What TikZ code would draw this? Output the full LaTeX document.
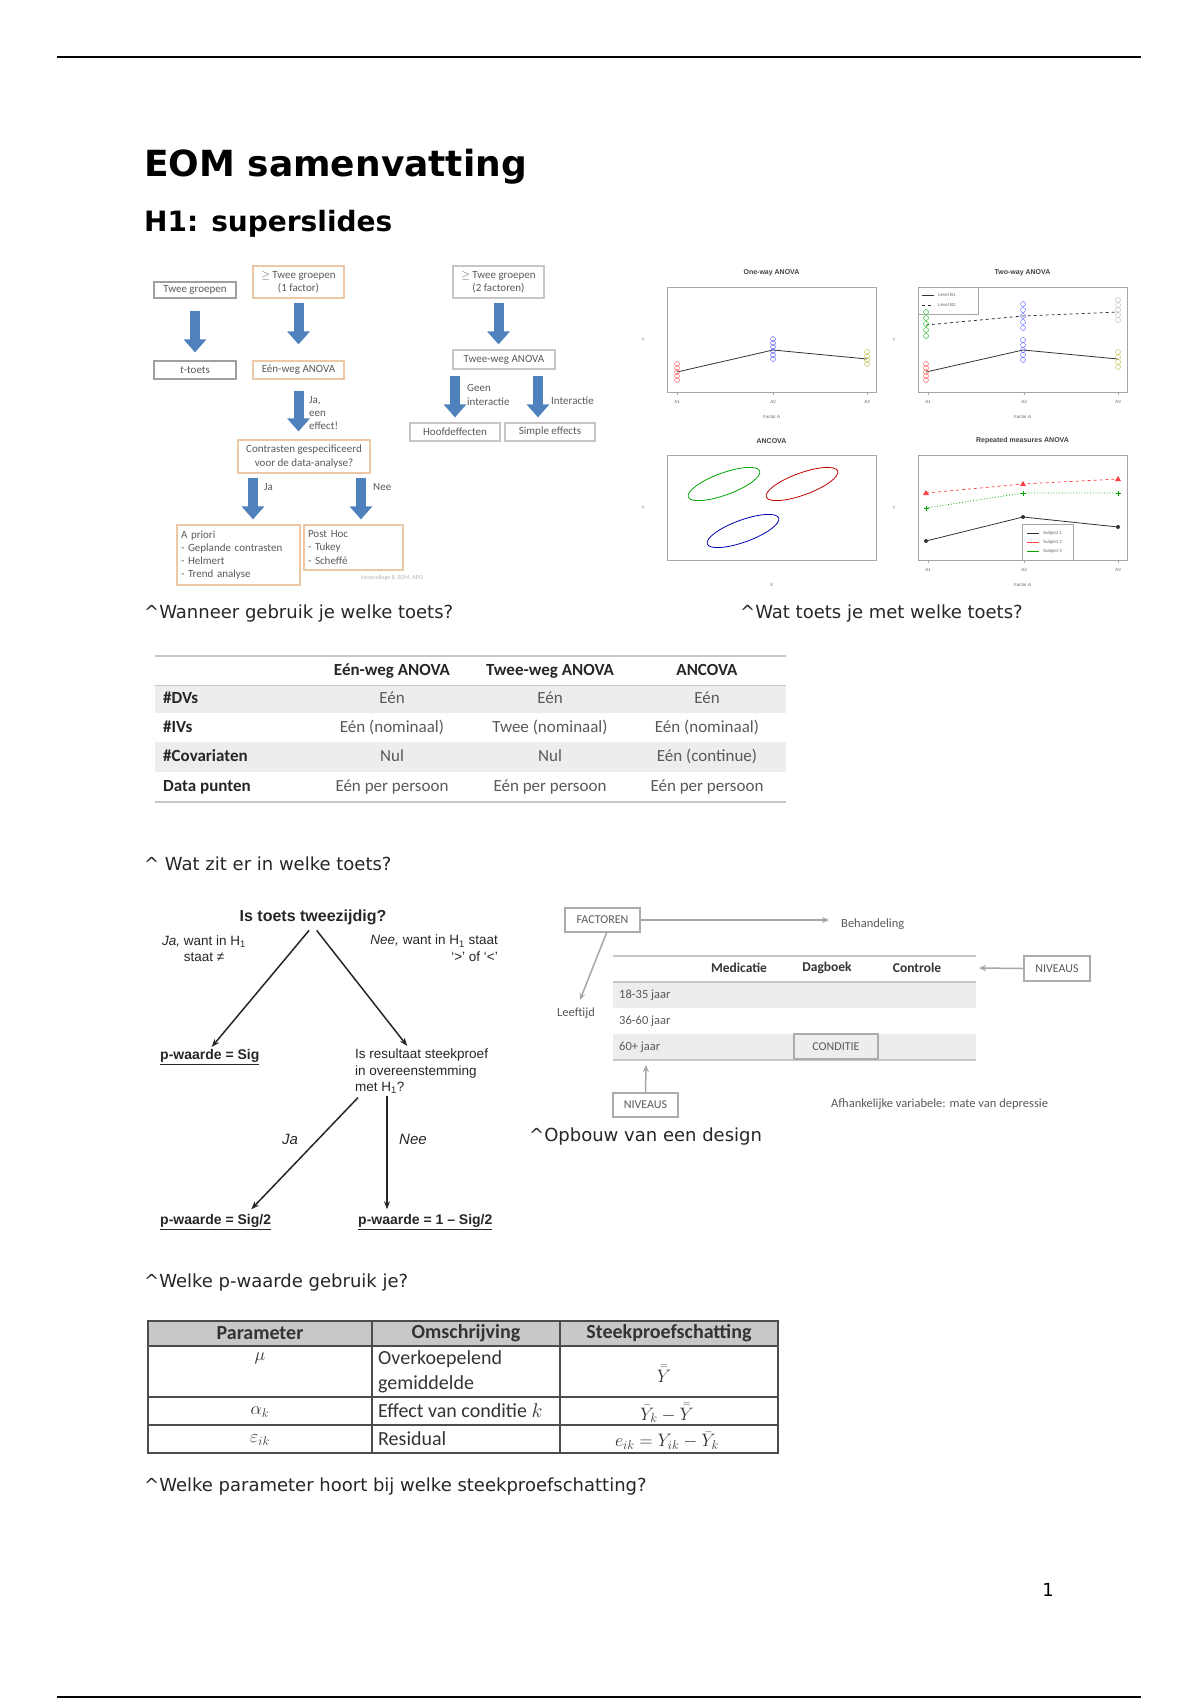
\RequirePackage{fix-cm}
\documentclass[tikz,border=0pt]{standalone}
\usepackage{fontspec}
\setmainfont{DejaVu Sans}
\newfontfamily\carlito{Carlito}
\newfontfamily\arial{Liberation Sans}
\usetikzlibrary{arrows.meta,positioning}
\newcommand\fsz[1]{\fontsize{#1}{\dimexpr #1pt*6/5\relax}\selectfont}
\definecolor{slideblauw}{RGB}{79,129,189}
\definecolor{randbruin}{RGB}{236,200,166}
\definecolor{randgrijs}{RGB}{160,160,160}
\definecolor{donkergrijs}{RGB}{89,89,89}
\definecolor{rijgrijs}{RGB}{237,237,237}
\definecolor{regelgrijs}{RGB}{200,200,200}
\definecolor{kopgrijs}{RGB}{200,200,200}
\tikzset{
  doos/.style={draw=#1, line width=1.2pt, align=center, inner sep=1pt, font=\carlito\fsz{11}, text=donkergrijs},
  doos/.default=randbruin,
  blokpijl/.style={slideblauw, line width=10pt, -{Triangle[length=13pt,width=22pt]}},
  pijllabel/.style={font=\carlito\fsz{11}, text=donkergrijs, align=left, anchor=west, inner sep=0},
  bijschrift/.style={anchor=base west, inner sep=0, font=\fsz{18}, text=black!85},
  kader/.style={draw=gray!70, line width=0.6pt},
  plottitel/.style={font=\arial\bfseries\fsz{7}, text=black!75, inner sep=0},
  plotklein/.style={font=\arial\fsz{4.5}, text=black!60, inner sep=0},
  tabelkop/.style={font=\carlito\bfseries\fsz{17}, text=black!85, inner sep=0, text height=12pt, text depth=3.5pt},
  tabelcel/.style={font=\carlito\fsz{17}, text=donkergrijs, inner sep=0, text height=12pt, text depth=3.5pt},
  boomtekst/.style={font=\arial\fsz{13.5}, text=black!85, inner sep=0},
  boompijl/.style={black!85, line width=1.5pt, -{Stealth[length=8pt,width=6pt]}},
  uitkomst/.style={font=\arial\bfseries\fsz{14}, text=black!85, inner sep=0, anchor=west},
  ontwerpkader/.style={draw=gray!65, line width=2pt, font=\carlito\fsz{12}, text=donkergrijs, inner sep=2pt},
  ontwerptekst/.style={font=\carlito\fsz{12.5}, text=donkergrijs, inner sep=0},
  ontwerpkop/.style={font=\carlito\bfseries\fsz{13.5}, text=black!80, inner sep=0},
  ontwerppijl/.style={gray!70, line width=1.5pt, -{Stealth[length=7pt,width=6pt]}},
  paramlijn/.style={draw=black!70, line width=1.4pt},
  paramtekst/.style={font=\carlito\fsz{20}, text=black!80, inner sep=0},
  parammath/.style={font=\fsz{18}, text=black!80, inner sep=0},
}
\begin{document}
\begin{tikzpicture}[x=1pt,y=-1pt]
\useasboundingbox (0,0) rectangle (1200,1700);
\draw[line width=1.4pt] (57,57) -- (1141,57);
\draw[line width=1.4pt] (57,1697) -- (1141,1697);
\node[anchor=base west,inner sep=0,font=\bfseries\fsz{36}] (titel) at (144,176) {EOM samenvatting};
\node[anchor=base west,inner sep=0,font=\bfseries\fsz{28}] (hoofdstuk) at (144,231) {H1: superslides};

\node[doos=randgrijs,minimum width=82pt,minimum height=16pt] (tweeg) at (195,290) {Twee groepen};
\node[doos,minimum width=91pt,minimum height=32pt] (tweeg1) at (298.5,282) {$\geq$ Twee groepen\\(1 factor)};
\node[doos=randgrijs,minimum width=82pt,minimum height=18pt] (ttoets) at (195,370) {\textit{t}-toets};
\node[doos,minimum width=91pt,minimum height=18pt] (eenweg) at (298.5,370) {Eén-weg ANOVA};
\node[doos,minimum width=132pt,minimum height=33pt] (contrast) at (304,456.5) {Contrasten gespecificeerd\\voor de data-analyse?};
\node[doos,minimum width=123pt,minimum height=60pt,text width=115pt,align=left] (apriori) at (238.5,555) {A priori\\- Geplande contrasten\\- Helmert\\- Trend analyse};
\node[doos,minimum width=99pt,minimum height=45pt,text width=91pt,align=left] (posthoc) at (353.5,547.5) {Post Hoc\\- Tukey\\- Scheffé};
\node[doos=randgrijs!60,minimum width=91pt,minimum height=32pt] (tweeg2) at (498.5,282) {$\geq$ Twee groepen\\(2 factoren)};
\node[doos=randgrijs!60,minimum width=102pt,minimum height=19pt] (tweeweg) at (504,359.5) {Twee-weg ANOVA};
\node[doos=randgrijs!60,minimum width=90pt,minimum height=18pt] (hoofd) at (455,432) {Hoofdeffecten};
\node[doos=randgrijs!60,minimum width=90pt,minimum height=18pt] (simpel) at (550,432) {Simple effects};
\draw[blokpijl,shorten <=12pt,shorten >=8pt] (tweeg) -- (ttoets);
\draw[blokpijl,shorten <=4pt,shorten >=16pt] (tweeg1) -- (eenweg);
\draw[blokpijl,shorten <=11pt,shorten >=8pt] (eenweg.south) -- (eenweg.south |- contrast.north);
\draw[blokpijl,shorten <=4pt,shorten >=5pt] ([xshift=-51pt]contrast.south) -- ([xshift=14.5pt]apriori.north);
\draw[blokpijl,shorten <=4pt,shorten >=5pt] ([xshift=57pt]contrast.south) -- ([xshift=7.5pt]posthoc.north);
\draw[blokpijl,shorten <=4pt,shorten >=5pt] (tweeg2.south) -- (tweeg2.south |- tweeweg.north);
\draw[blokpijl,shorten <=6pt,shorten >=5pt] (tweeweg.south -| hoofd.north) -- (hoofd.north);
\draw[blokpijl,shorten <=6pt,shorten >=5pt] ([xshift=34pt]tweeweg.south) -- ([xshift=-12pt]simpel.north);
\node[pijllabel] (jaeffect) at (309,413) {Ja,\\een\\effect!};
\node[pijllabel] (jalabel) at (264,487) {Ja};
\node[pijllabel] (neelabel) at (373,487) {Nee};
\node[pijllabel] (geen) at (467,395) {Geen\\interactie};
\node[pijllabel] (inter) at (551,401) {Interactie};
\node[font=\carlito\fsz{6},text=gray!60] (bron) at (392,578) {Hoorcollege 8, EOM, APO};

\foreach \px/\py/\titel [count=\i] in {667/287/One-way ANOVA,918/287/Two-way ANOVA,667/455/ANCOVA,918/455/Repeated measures ANOVA}{%
  \draw[kader] (\px,\py) rectangle ++(209,105);
  \node[plottitel] (ptitel\i) at (\px+104.5,\py-14) {\titel};
  \node[plotklein] (yas\i) at (\px-24,\py+53) {Y};}
\foreach \px/\py [count=\i] in {667/392,918/392,918/560}{%
  \foreach \dx/\lab in {10/A1,106/A2,200/A3}{%
    \draw[gray!70,line width=0.5pt] (\px+\dx,\py) -- ++(0,3);
    \node[plotklein] (as\i\lab) at (\px+\dx,\py+10) {\lab};}
  \node[plotklein] (xas\i) at (\px+104.5,\py+25) {Factor A};}
\node[plotklein] (xasX) at (771.5,585) {X};
\draw[black!80,line width=0.8pt] (677,372) -- (773,350) -- (867,359);
\foreach \y in {364,368,372,376,380} \draw[red!70,line width=0.4pt] (677,\y) circle (2.5pt);
\foreach \y in {339,343,347,351,355,359} \draw[blue!70,line width=0.4pt] (773,\y) circle (2.5pt);
\foreach \y in {352,356,360,364} \draw[yellow!70!black,line width=0.4pt] (867,\y) circle (2.5pt);
\draw[black!80,line width=0.8pt,dashed] (926,325) -- (1023,316) -- (1118,312);
\draw[black!80,line width=0.8pt] (926,372) -- (1023,350) -- (1118,359);
\foreach \y in {312,318,324,330,336} \draw[green!70!black,line width=0.4pt] (926,\y) circle (2.5pt);
\foreach \y in {364,368,372,376,380} \draw[red!70,line width=0.4pt] (926,\y) circle (2.5pt);
\foreach \y in {304,310,316,322,328,340,345,350,355,360} \draw[blue!70,line width=0.4pt] (1023,\y) circle (2.5pt);
\foreach \y in {300,305,310,315,320} \draw[gray!60,line width=0.4pt] (1118,\y) circle (2.5pt);
\foreach \y in {352,357,362,367} \draw[yellow!70!black,line width=0.4pt] (1118,\y) circle (2.5pt);
\draw[kader] (918,287) rectangle (978,314);
\draw[black!80,line width=0.6pt] (922,295) -- (934,295);
\draw[black!80,line width=0.6pt,dashed] (922,305) -- (934,305);
\node[plotklein,anchor=west] (levB1) at (938,295) {Level B1};
\node[plotklein,anchor=west] (levB2) at (938,305) {Level B2};
\draw[green!65!black,line width=0.8pt,rotate around={20:(724,484)}] (724,484) ellipse (38pt and 11pt);
\draw[red!75!black,line width=0.8pt,rotate around={20:(802,484)}] (802,484) ellipse (38pt and 11pt);
\draw[blue!70!black,line width=0.8pt,rotate around={20:(743,531)}] (743,531) ellipse (38pt and 11pt);
\draw[red!75,dashed,line width=0.7pt] (926,493) -- (1023,484) -- (1118,479);
\foreach \x/\y in {926/493,1023/484,1118/479} \fill[red!75] (\x,\y-3) -- ++(-3,5) -- ++(6,0) -- cycle;
\draw[green!65!black,dotted,line width=0.8pt] (926,508) -- (1023,493) -- (1118,493);
\foreach \x/\y in {926/508,1023/493,1118/493} \draw[green!65!black,line width=0.7pt] (\x-2.5,\y) -- (\x+2.5,\y) (\x,\y-2.5) -- (\x,\y+2.5);
\draw[black!80,line width=0.8pt] (926,541) -- (1023,517) -- (1118,527);
\foreach \x/\y in {926/541,1023/517,1118/527} \fill[black!80] (\x,\y) circle (2pt);
\draw[kader] (1022,524) rectangle (1073,560);
\foreach \y/\c/\s [count=\i] in {533/black!80/1,542/red!75/2,551/green!65!black/3}{%
  \draw[\c,line width=0.7pt] (1027,\y) -- (1039,\y);
  \node[plotklein,anchor=west] (subj\i) at (1043,\y) {Subject \s};}

\node[bijschrift] (vraag1) at (144,618) {\textasciicircum Wanneer gebruik je welke toets?};
\node[bijschrift] (vraag2) at (740,618) {\textasciicircum Wat toets je met welke toets?};

\fill[rijgrijs] (155,685) rectangle (786,713);
\fill[rijgrijs] (155,742) rectangle (786,772);
\draw[regelgrijs,line width=2pt] (155,656) -- (786,656);
\draw[regelgrijs,line width=0.8pt] (155,685) -- (786,685);
\draw[regelgrijs,line width=2pt] (155,802) -- (786,802);
\foreach \x/\kop [count=\i] in {392/Eén-weg ANOVA,550/Twee-weg ANOVA,707/ANCOVA}
  \node[tabelkop] (kop\i) at (\x,671) {\kop};
\foreach \y/\rij/\a/\b/\c [count=\i] in {699/\#DVs/Eén/Eén/Eén,728/\#IVs/Eén (nominaal)/Twee (nominaal)/Eén (nominaal),757/\#Covariaten/Nul/Nul/Eén (continue),787/Data punten/Eén per persoon/Eén per persoon/Eén per persoon}{%
  \node[tabelkop,anchor=west] (rij\i) at (163,\y) {\rij};
  \node[tabelcel] (cela\i) at (392,\y) {\a};
  \node[tabelcel] (celb\i) at (550,\y) {\b};
  \node[tabelcel] (celc\i) at (707,\y) {\c};}
\node[bijschrift] (vraag3) at (144,870) {\textasciicircum{} Wat zit er in welke toets?};

\node[font=\arial\bfseries\fsz{16},text=black!85,inner sep=1pt] (tweezijdig) at (313,917) {Is toets tweezijdig?};
\node[boomtekst,align=center] (jawant) at (204,949) {\textit{Ja,} want in H\textsubscript{1}\\staat ≠};
\node[boomtekst,align=right,anchor=north east] (neewant) at (498,935) {\textit{Nee,} want in H\textsubscript{1} staat\\‘>’ of ‘<’};
\node[uitkomst] (sig) at (160,1057) {\underline{p-waarde = Sig}};
\node[boomtekst,align=left,anchor=north west] (resultaat) at (355,1049) {Is resultaat steekproef\\in overeenstemming\\met H\textsubscript{1}?};
\node[uitkomst] (sig2) at (160,1222) {\underline{p-waarde = Sig/2}};
\node[uitkomst] (sig3) at (358,1222) {\underline{p-waarde = 1 – Sig/2}};
\node[font=\arial\itshape\fsz{15},text=black!85] (ja) at (290,1139) {Ja};
\node[font=\arial\itshape\fsz{15},text=black!85] (nee) at (413,1139) {Nee};
\draw[boompijl,shorten <=6pt,shorten >=3pt] (tweezijdig.south) -- (sig.north);
\draw[boompijl,shorten <=6pt,shorten >=4pt] (tweezijdig.south) -- ([xshift=-12pt]resultaat.north);
\draw[boompijl] ([xshift=3pt,yshift=-4pt]resultaat.south west) -- ([xshift=-20pt,yshift=5pt]sig2.north east);
\draw[boompijl] ([xshift=32pt,yshift=-2pt]resultaat.south west) -- ([xshift=29pt,yshift=5pt]sig3.north west);
\node[bijschrift] (vraag4) at (144,1287) {\textasciicircum Welke p-waarde gebruik je?};

\fill[rijgrijs] (613,982) rectangle (976,1008);
\fill[rijgrijs] (613,1034) rectangle (976,1060);
\foreach \y in {956,982,1060} \draw[regelgrijs,line width=1.5pt] (613,\y) -- (976,\y);
\foreach \x/\kop [count=\i] in {739/Medicatie,827/Dagboek,917/Controle}
  \node[ontwerpkop] (behkop\i) at (\x,968) {\kop};
\foreach \y/\rij [count=\i] in {995/18-35 jaar,1021/36-60 jaar,1047/60+ jaar}
  \node[ontwerptekst,anchor=west] (leeft\i) at (619,\y) {\rij};
\node[ontwerpkader,minimum width=75pt,minimum height=24pt] (factoren) at (602.5,920) {FACTOREN};
\node[ontwerptekst,anchor=west] (behandeling) at (841,924) {Behandeling};
\node[ontwerptekst] (leeftijd) at (576,1013) {Leeftijd};
\node[ontwerpkader,minimum width=84pt,minimum height=25pt] (conditie) at (836,1046.5) {CONDITIE};
\node[ontwerpkader,minimum width=66pt,minimum height=25pt] (niveaus1) at (1057,968.5) {NIVEAUS};
\node[ontwerpkader,minimum width=65pt,minimum height=24pt] (niveaus2) at (645.5,1105) {NIVEAUS};
\coordinate (kolomkop) at (979,968);
\coordinate (rijkop) at (646,1065);
\draw[ontwerppijl,shorten >=12pt] (factoren.east) -- (factoren.east -| behandeling.west);
\draw[ontwerppijl,shorten >=8pt] ([xshift=4pt]factoren.south) -- ([xshift=1pt]leeftijd.north);
\draw[ontwerppijl] (niveaus1.west) -- (kolomkop);
\draw[ontwerppijl] (niveaus2.north) -- (rijkop);
\node[ontwerptekst,anchor=west] (afh) at (831,1104) {Afhankelijke variabele: mate van depressie};
\node[bijschrift] (vraag5) at (529,1141) {\textasciicircum Opbouw van een design};

\fill[kopgrijs] (148,1321) rectangle (778,1346);
\draw[paramlijn] (148,1321) rectangle (778,1453);
\foreach \y in {1346,1397,1425} \draw[paramlijn] (148,\y) -- (778,\y);
\foreach \x in {372,560} \draw[paramlijn] (\x,1321) -- (\x,1453);
\foreach \x/\kop [count=\i] in {260/Parameter,466/Omschrijving,669/Steekproefschatting}
  \node[paramtekst,font=\carlito\bfseries\fsz{20}] (pkop\i) at (\x,1333.5) {\kop};
\node[parammath] (mu) at (260,1358) {$\mu$};
\node[paramtekst,anchor=west,align=left,font=\carlito\fontsize{20}{25}\selectfont] (overk) at (378,1372) {Overkoepelend\\gemiddelde};
\node[parammath] (grand) at (664,1374) {$\bar{\bar{Y}}$};
\node[parammath] (alfa) at (260,1412) {$\alpha_k$};
\node[paramtekst,anchor=west] (effect) at (378,1411) {Effect van conditie $k$};
\node[parammath] (effschat) at (667,1413) {$\bar{Y}_k-\bar{\bar{Y}}$};
\node[parammath] (eps) at (260,1440) {$\varepsilon_{ik}$};
\node[paramtekst,anchor=west] (resid) at (378,1439) {Residual};
\node[parammath] (resschat) at (667,1441) {$e_{ik}=Y_{ik}-\bar{Y}_k$};
\node[bijschrift] (vraag6) at (144,1491) {\textasciicircum Welke parameter hoort bij welke steekproefschatting?};
\node[anchor=base,inner sep=0,font=\fsz{18}] (pagina) at (1048,1596) {1};
\end{tikzpicture}
\end{document}
